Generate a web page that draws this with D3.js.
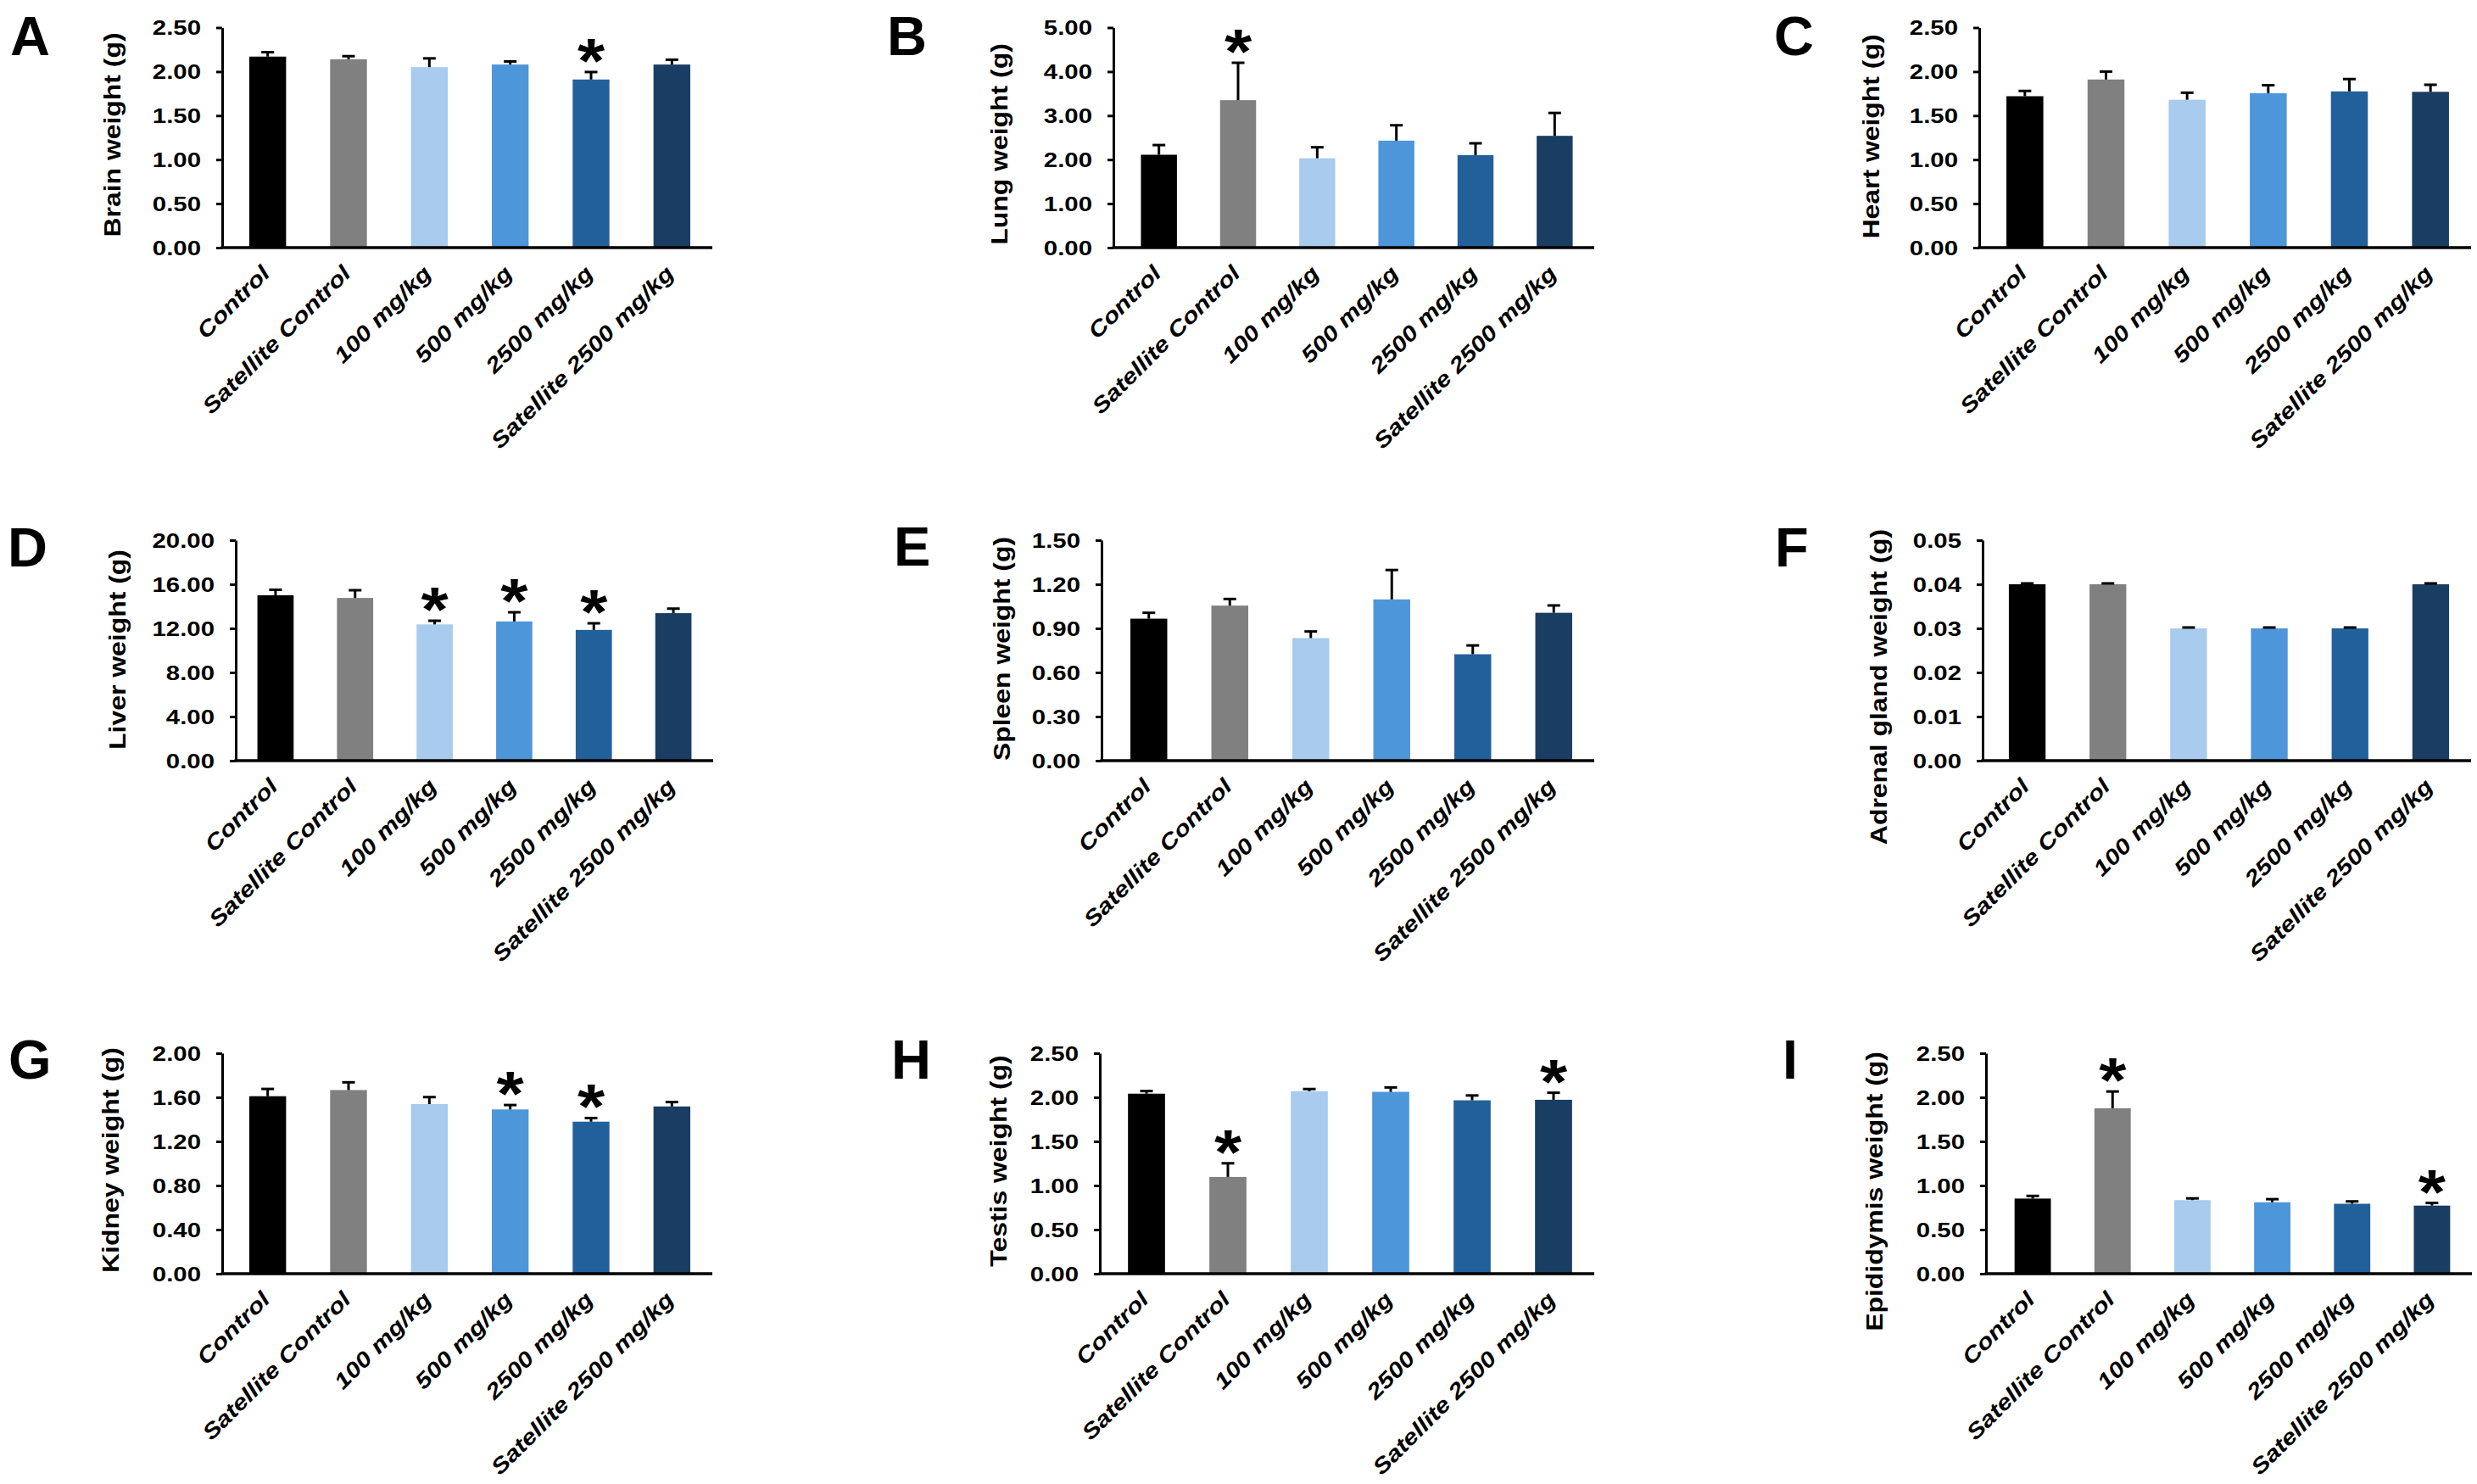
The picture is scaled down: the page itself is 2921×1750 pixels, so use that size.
<!DOCTYPE html>
<html>
<head>
<meta charset="utf-8">
<script src="https://cdn.jsdelivr.net/npm/d3@7"></script>
<style>
  html, body { margin: 0; padding: 0; background: #ffffff; }
  svg { display: block; }
  text { font-family: "Liberation Sans", Arial, sans-serif; fill: #000; }
</style>
</head>
<body>
<script>
// ---------------- DATA ----------------
const categories = ["Control", "Satellite Control", "100 mg/kg", "500 mg/kg", "2500 mg/kg", "Satellite 2500 mg/kg"];
const barColors = ["#000000", "#808080", "#a8cbee", "#4e96da", "#22609c", "#1a3d63"];

const panelLetters = ["A", "B", "C", "D", "E", "F", "G", "H", "I"];
const yTitles = ["Brain weight (g)", "Lung weight (g)", "Heart weight (g)",
                 "Liver weight (g)", "Spleen weight (g)", "Adrenal gland weight (g)",
                 "Kidney weight (g)", "Testis weight (g)", "Epididymis weight (g)"];

const brainMean = [2.17, 2.14, 2.05, 2.08, 1.91, 2.08];
const brainErr  = [0.05, 0.035, 0.10, 0.035, 0.085, 0.055];
const brainSig  = [4];
const brainTicks = [0, 0.5, 1.0, 1.5, 2.0, 2.5];

const lungMean = [2.11, 3.35, 2.03, 2.43, 2.10, 2.54];
const lungErr  = [0.22, 0.85, 0.25, 0.35, 0.27, 0.52];
const lungSig  = [1];
const lungTicks = [0, 1, 2, 3, 4, 5];

const heartMean = [1.72, 1.91, 1.68, 1.755, 1.775, 1.77];
const heartErr  = [0.06, 0.09, 0.08, 0.09, 0.14, 0.08];
const heartSig  = [];
const heartTicks = [0, 0.5, 1.0, 1.5, 2.0, 2.5];

const liverMean = [15.0, 14.76, 12.36, 12.63, 11.86, 13.38];
const liverErr  = [0.5, 0.7, 0.33, 0.83, 0.6, 0.41];
const liverSig  = [2, 3, 4];
const liverTicks = [0, 4, 8, 12, 16, 20];

const spleenMean = [0.966, 1.055, 0.834, 1.097, 0.724, 1.006];
const spleenErr  = [0.04, 0.045, 0.045, 0.2, 0.06, 0.05];
const spleenSig  = [];
const spleenTicks = [0, 0.3, 0.6, 0.9, 1.2, 1.5];

const adrenalMean = [0.040, 0.040, 0.030, 0.030, 0.030, 0.040];
const adrenalErr  = [0.0002, 0.0002, 0.0002, 0.0002, 0.0002, 0.0002];
const adrenalSig  = [];
const adrenalTicks = [0, 0.01, 0.02, 0.03, 0.04, 0.05];

const kidneyMean = [1.61, 1.666, 1.539, 1.49, 1.379, 1.517];
const kidneyErr  = [0.066, 0.07, 0.063, 0.04, 0.033, 0.04];
const kidneySig  = [3, 4];
const kidneyTicks = [0, 0.4, 0.8, 1.2, 1.6, 2.0];

const testisMean = [2.041, 1.097, 2.069, 2.062, 1.966, 1.972];
const testisErr  = [0.03, 0.155, 0.025, 0.05, 0.055, 0.08];
const testisSig  = [1, 5];
const testisTicks = [0, 0.5, 1.0, 1.5, 2.0, 2.5];

const epiMean = [0.852, 1.876, 0.834, 0.81, 0.793, 0.772];
const epiErr  = [0.03, 0.19, 0.02, 0.035, 0.027, 0.03];
const epiSig  = [1, 5];
const epiTicks = [0, 0.5, 1.0, 1.5, 2.0, 2.5];

const allMeans = [brainMean, lungMean, heartMean, liverMean, spleenMean, adrenalMean, kidneyMean, testisMean, epiMean];
const allErrs  = [brainErr, lungErr, heartErr, liverErr, spleenErr, adrenalErr, kidneyErr, testisErr, epiErr];
const allSigs  = [brainSig, lungSig, heartSig, liverSig, spleenSig, adrenalSig, kidneySig, testisSig, epiSig];
const allTicks = [brainTicks, lungTicks, heartTicks, liverTicks, spleenTicks, adrenalTicks, kidneyTicks, testisTicks, epiTicks];
const tickFormats = [".2f", ".2f", ".2f", ".2f", ".2f", ".2f", ".2f", ".2f", ".2f"];

// ---------------- LAYOUT (positions only) ----------------
const rows = [[32.5, 292], [637, 897], [1242, 1502]];
const layout = [
  {axisX: 262,  x0: 268,  x1: 840,  row: 0, lx: 12,   ly: 65,   tx: 142,  ty: 159},
  {axisX: 1313, x0: 1320, x1: 1880, row: 0, lx: 1046, ly: 65,   tx: 1188, ty: 170},
  {axisX: 2334, x0: 2340, x1: 2914, row: 0, lx: 2092, ly: 65,   tx: 2216, ty: 161},
  {axisX: 278,  x0: 278,  x1: 841,  row: 1, lx: 9,    ly: 668,  tx: 148,  ty: 766},
  {axisX: 1299, x0: 1307, x1: 1880, row: 1, lx: 1054, ly: 667,  tx: 1191, ty: 765},
  {axisX: 2338, x0: 2343, x1: 2914, row: 1, lx: 2093, ly: 668,  tx: 2225, ty: 810},
  {axisX: 262,  x0: 268,  x1: 840,  row: 2, lx: 10,   ly: 1272, tx: 140,  ty: 1368},
  {axisX: 1297, x0: 1304, x1: 1880, row: 2, lx: 1051, ly: 1272, tx: 1187, ty: 1369},
  {axisX: 2342, x0: 2350, x1: 2915, row: 2, lx: 2102, ly: 1272, tx: 2220, ty: 1405}
];

// ---------------- DRAW ----------------
const svg = d3.select("body").append("svg")
  .attr("width", 2921).attr("height", 1750)
  .attr("viewBox", "0 0 2921 1750");

allMeans.forEach((means, i) => {
  const L = layout[i];
  const [yTop, yBase] = rows[L.row];
  const ticks = allTicks[i];
  const errs = allErrs[i];
  const sigs = allSigs[i];

  const x = d3.scaleBand().domain(categories).range([L.x0, L.x1])
    .paddingInner(0.545).paddingOuter(0.2725);
  const y = d3.scaleLinear().domain([0, d3.max(ticks)]).range([yBase, yTop]);

  const g = svg.append("g").attr("class", "panel");

  const rows_ = categories.map((c, j) => ({cat: c, mean: means[j], err: errs[j], color: barColors[j], sig: sigs.includes(j)}));

  // bars
  g.selectAll("rect.bar").data(rows_).join("rect")
    .attr("class", "bar")
    .attr("x", d => x(d.cat))
    .attr("y", d => y(d.mean))
    .attr("width", x.bandwidth())
    .attr("height", d => yBase - y(d.mean))
    .attr("fill", d => d.color);

  // error bars (upper only)
  const eb = g.selectAll("g.err").data(rows_).join("g").attr("class", "err");
  eb.append("line")
    .attr("x1", d => x(d.cat) + x.bandwidth() / 2)
    .attr("x2", d => x(d.cat) + x.bandwidth() / 2)
    .attr("y1", d => y(d.mean))
    .attr("y2", d => y(d.mean + d.err))
    .attr("stroke", "#000").attr("stroke-width", 3);
  eb.append("line")
    .attr("x1", d => x(d.cat) + x.bandwidth() / 2 - 7.5)
    .attr("x2", d => x(d.cat) + x.bandwidth() / 2 + 7.5)
    .attr("y1", d => y(d.mean + d.err))
    .attr("y2", d => y(d.mean + d.err))
    .attr("stroke", "#000").attr("stroke-width", 3);

  // significance stars
  g.selectAll("text.star").data(rows_.filter(d => d.sig)).join("text")
    .attr("class", "star")
    .attr("text-anchor", "middle")
    .attr("font-size", 74).attr("font-weight", "bold")
    .attr("transform", d => `translate(${x(d.cat) + x.bandwidth() / 2},${y(d.mean + d.err) + 12}) scale(1.12,1)`)
    .text("*");

  // y axis
  const yAxis = d3.axisLeft(y).tickValues(ticks).tickFormat(d3.format(tickFormats[i]))
    .tickSize(7).tickSizeOuter(0).tickPadding(18);
  const yg = g.append("g").attr("transform", `translate(${L.axisX},0)`).call(yAxis);
  yg.select(".domain").attr("stroke", "#000").attr("stroke-width", 3);
  yg.selectAll(".tick line").attr("stroke", "#000").attr("stroke-width", 3);
  yg.selectAll(".tick text")
    .attr("x", 0).attr("dy", "0.35em")
    .attr("transform", "translate(-25,0) scale(1.25,1)")
    .attr("font-size", 23.5).attr("font-weight", "bold")
    .attr("font-family", "'Liberation Sans', Arial, sans-serif")
    .attr("fill", "#000");

  // x axis labels
  const xAxis = d3.axisBottom(x).tickSize(0).tickPadding(0);
  const xg = g.append("g").attr("transform", `translate(0,${yBase})`).call(xAxis);
  xg.select(".domain").remove();
  xg.selectAll(".tick text")
    .attr("x", 0).attr("y", 0).attr("dy", 0)
    .attr("text-anchor", "end")
    .attr("transform", "translate(4,32) rotate(-45) scale(1.2,1)")
    .attr("font-size", 25.5).attr("font-weight", "bold").attr("font-style", "italic")
    .attr("font-family", "'Liberation Sans', Arial, sans-serif")
    .attr("fill", "#000");

  // x axis baseline
  g.append("line")
    .attr("x1", L.axisX - 1.5).attr("x2", L.x1)
    .attr("y1", yBase).attr("y2", yBase)
    .attr("stroke", "#000").attr("stroke-width", 3.5);

  // y title
  g.append("text")
    .attr("text-anchor", "middle")
    .attr("font-size", 28).attr("font-weight", "bold")
    .attr("transform", `translate(${L.tx},${L.ty}) rotate(-90) scale(1.14,1)`)
    .text(yTitles[i]);

  // panel letter
  g.append("text")
    .attr("x", L.lx).attr("y", L.ly)
    .attr("font-size", 65).attr("font-weight", "bold")
    .text(panelLetters[i]);
});
</script>
</body>
</html>
